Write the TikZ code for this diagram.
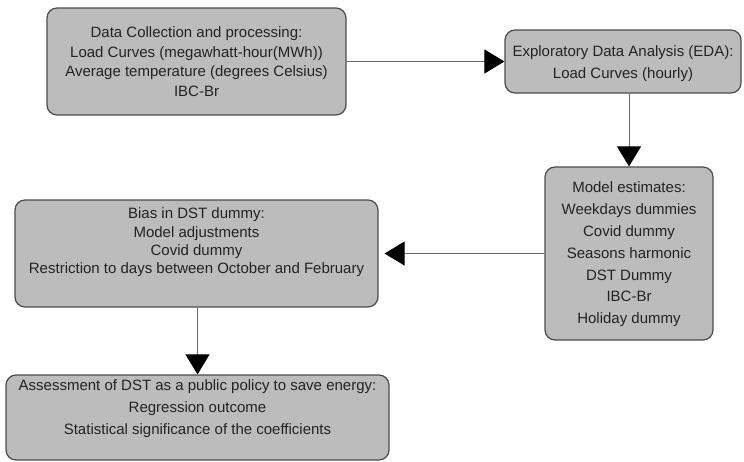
\documentclass[tikz,border=0pt]{standalone}
\usepackage{fontspec}
\setmainfont{Liberation Sans}
\usetikzlibrary{arrows.meta}
\usetikzlibrary{calc}
\usepackage{xcolor}

\definecolor{boxgray}{RGB}{188,188,188}
\definecolor{edgegray}{RGB}{75,75,75}
\definecolor{linegray}{RGB}{105,105,105}
\definecolor{textgray}{RGB}{35,35,35}

\tikzset{
	stagebox/.style={draw=edgegray, line width=1.2pt, fill=boxgray, rounded corners=10pt,
		inner sep=0pt},
	stagetext/.style={align=center, inner sep=0pt, text=textgray,
		font=\fontsize{15pt}{#1}\selectfont},
	stagetext/.default=21.8pt,
	flow/.style={-{Triangle[length=20pt,width=24pt,color=black]}, draw=linegray, line width=1pt}
}

\begin{document}
\begin{tikzpicture}[x=1pt,y=-1pt]
		
		\useasboundingbox (0,0) rectangle (744,461);
		
		%--- boxes of the stages ---
		\node[stagebox, minimum width=299pt, minimum height=107pt] (collect) at (196.5,61.5) {};
		\node[stagebox, minimum width=236pt, minimum height=63pt] (eda) at (623,61.5) {};
		\node[stagebox, minimum width=168pt, minimum height=173pt] (model) at (629,253.5) {};
		\node[stagebox, minimum width=363pt, minimum height=107pt] (bias) at (196.5,253.5) {};
		\node[stagebox, minimum width=383pt, minimum height=85pt] (assess) at (197.5,417.5) {};
		
		%--- texts of the stages ---
		\node[stagetext=19.7pt] (collecttxt) at (collect.center)
			{Data Collection and processing:\\ Load Curves (megawhatt-hour(MWh))\\
			 Average temperature (degrees Celsius)\\ IBC-Br};
		\node[stagetext=22pt, yshift=-2pt] (edatxt) at (eda.center)
			{Exploratory Data Analysis (EDA):\\ Load Curves (hourly)};
		\node[stagetext, yshift=-1pt] (modeltxt) at (model.center)
			{Model estimates:\\ Weekdays dummies\\ Covid dummy\\ Seasons harmonic\\
			 DST Dummy\\ IBC-Br\\ Holiday dummy};
		\node[stagetext=18.3pt, yshift=11pt] (biastxt) at (bias.center)
			{Bias in DST dummy:\\ Model adjustments\\ Covid dummy\\
			 Restriction to days between October and February};
		\node[stagetext=22pt, yshift=8.5pt] (assesstxt) at (assess.center)
			{Assessment of DST as a public policy to save energy:\\ Regression outcome\\
			 Statistical significance of the coefficients};
		
		%--- arrows between stages ---
		\draw[flow] (collect.east) -- (eda.west);
		\draw[flow] (model.north |- eda.south) -- (model.north);
		\draw[flow, shorten >=6pt] (model.west) -- (bias.east);
		\draw[flow] (assess.north |- bias.south) -- (assess.north);
		
	\end{tikzpicture}
\end{document}
